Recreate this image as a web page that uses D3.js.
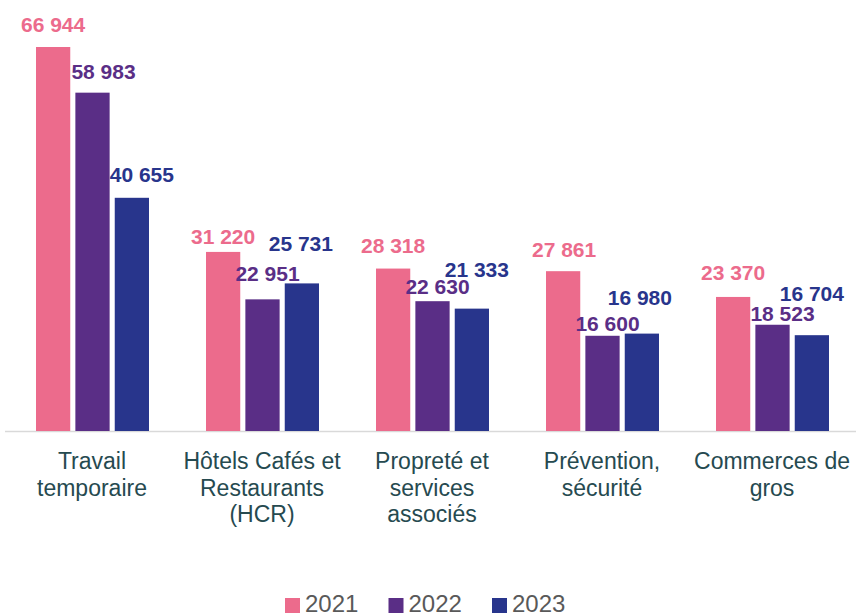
<!DOCTYPE html>
<html>
<head>
<meta charset="utf-8">
<script src="https://cdn.jsdelivr.net/npm/d3@7"></script>
<style>
  body { margin: 0; background: #fff; }
  svg { display: block; font-family: "Liberation Sans", Arial, sans-serif; }
</style>
</head>
<body>
<svg id="chart" width="856" height="616"></svg>
<script>
const secteurs = ["Travail temporaire", "Hôtels Cafés et Restaurants (HCR)", "Propreté et services associés", "Prévention, sécurité", "Commerces de gros"];
const lignesSecteurs = [["Travail", "temporaire"], ["Hôtels Cafés et", "Restaurants", "(HCR)"], ["Propreté et", "services", "associés"], ["Prévention,", "sécurité"], ["Commerces de", "gros"]];
const annees = ["2021", "2022", "2023"];
const valeurs2021 = [66944, 31220, 28318, 27861, 23370];
const valeurs2022 = [58983, 22951, 22630, 16600, 18523];
const valeurs2023 = [40655, 25731, 21333, 16980, 16704];
const couleurs = ["#ec6b8c", "#5a2e86", "#28358c"];

// petits décalages des étiquettes, comme dans l'original
const decalages = [
    [[0, -9], [0, -2], [0, -10], [1, -8], [0, -11]],
    [[11, -8], [5, -12], [5, -1], [5, 1], [10, 2]],
    [[10, -10], [-1, -26], [5, -26], [-2, -23], [0, -28]]
];

const series = [valeurs2021, valeurs2022, valeurs2023];
const svg = d3.select("#chart");
const base = 431;

const fr = d3.formatLocale({ decimal: ",", thousands: " ", grouping: [3], currency: ["", " €"] });
const fmt = fr.format(",d");

const x0 = d3.scaleBand().domain(secteurs).range([7, 857]).padding(0);
const x1 = d3.scaleBand().domain(annees).range([29, 142]).paddingInner(0.13);
const y = d3.scaleLinear().domain([0, 70000]).range([base, base - 70000 * 384 / 66944]);

// Axe du bas
const axe = svg.append("g")
    .attr("transform", `translate(0,${base})`)
    .call(d3.axisBottom(x0).tickSize(0).tickSizeOuter(0).tickFormat(""));
axe.select(".domain").attr("stroke", "#d9d9d9").attr("stroke-width", 1.5).attr("d", "M5,0.5H856");

axe.selectAll(".tick text").remove();
axe.selectAll(".tick").each(function (d, i) {
    const t = d3.select(this).append("text")
        .attr("fill", "#264a50")
        .attr("font-size", 23)
        .attr("text-anchor", "middle");
    lignesSecteurs[i].forEach((l, j) => {
        t.append("tspan").attr("x", 0).attr("y", 38 + j * 26.5).text(l);
    });
});

// Barres
series.forEach((vals, s) => {
    const g = svg.append("g");
    g.selectAll("rect")
        .data(vals)
        .join("rect")
        .attr("x", (d, i) => x0(secteurs[i]) + x1(annees[s]))
        .attr("y", d => y(d))
        .attr("width", x1.bandwidth())
        .attr("height", d => base - y(d))
        .attr("fill", couleurs[s]);

    g.selectAll("text")
        .data(vals)
        .join("text")
        .attr("x", (d, i) => x0(secteurs[i]) + x1(annees[s]) + x1.bandwidth() / 2 + decalages[s][i][0])
        .attr("y", (d, i) => y(d) - 6 + decalages[s][i][1])
        .attr("text-anchor", "middle")
        .attr("font-size", 21)
        .attr("font-weight", "bold")
        .attr("fill", couleurs[s])
        .text(d => fmt(d));
});

// Légende
const legende = svg.append("g").attr("transform", "translate(285,0)");
annees.forEach((a, i) => {
    const it = legende.append("g").attr("transform", `translate(${i * 103.5},0)`);
    it.append("rect").attr("x", 0).attr("y", 598).attr("width", 15).attr("height", 15).attr("fill", couleurs[i]);
    it.append("text").attr("x", 20).attr("y", 612).attr("font-size", 24).attr("fill", "#595959").text(a);
});
</script>
</body>
</html>
